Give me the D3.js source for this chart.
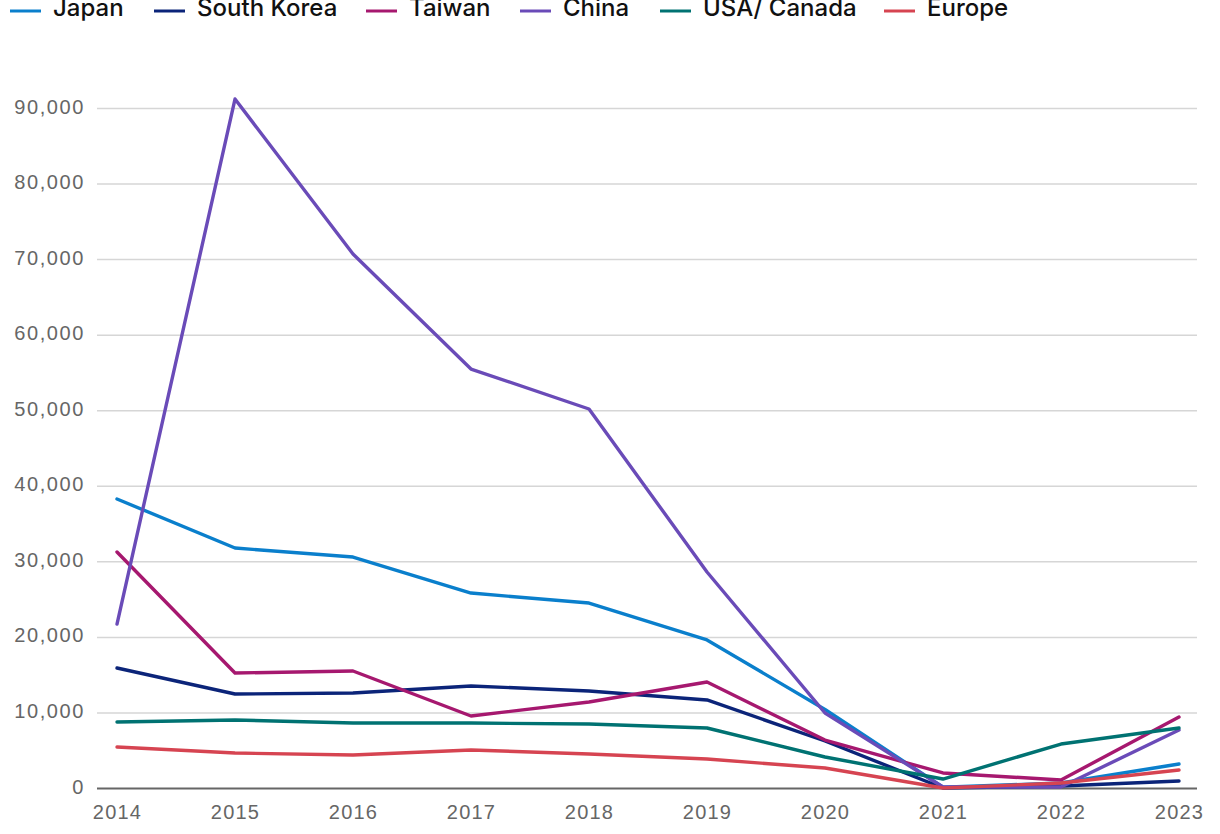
<!DOCTYPE html>
<html>
<head>
<meta charset="utf-8">
<script src="https://cdn.jsdelivr.net/npm/d3@7"></script>
<style>
  html, body { margin: 0; padding: 0; background: #fff; }
  svg { display: block; font-family: Inter, "Noto Sans", Arial, sans-serif; }
</style>
</head>
<body>
<svg id="chart" width="1220" height="834"></svg>
<script>
const years = [2014, 2015, 2016, 2017, 2018, 2019, 2020, 2021, 2022, 2023];
const seriesNames = ["Japan", "South Korea", "Taiwan", "China", "USA/ Canada", "Europe"];
const seriesColors = ["#0a7fcc", "#0b2479", "#a6186f", "#6a4bb8", "#007272", "#d64451"];
const japan      = [38250, 31760, 30570, 25800, 24480, 19590, 10400, 100, 660, 3180];
const southKorea = [15880, 12440, 12570, 13500, 12840, 11650, 6220, 0, 260, 930];
const taiwan     = [31230, 15220, 15490, 9530, 11380, 14030, 6350, 1990, 1060, 9400];
const china      = [21700, 91190, 70680, 55450, 50160, 28590, 9930, 130, 130, 7680];
const usaCanada  = [8740, 9000, 8600, 8600, 8470, 7940, 4100, 1190, 5820, 7940];
const europe     = [5430, 4630, 4370, 5030, 4500, 3840, 2650, 0, 660, 2380];
const yTicks = [0, 10000, 20000, 30000, 40000, 50000, 60000, 70000, 80000, 90000];

const seriesValues = [japan, southKorea, taiwan, china, usaCanada, europe];

const svg = d3.select("#chart");
const x = d3.scalePoint().domain(years).range([117, 1179]);
const y = d3.scaleLinear().domain([0, 90000]).range([788, 108]);

// y axis + gridlines
const yAxis = d3.axisLeft(y).tickValues(yTicks).tickFormat(d3.format(",")).tickSize(0).tickPadding(12);
const gy = svg.append("g").attr("transform", "translate(97,0)").call(yAxis);
gy.select(".domain").remove();
gy.selectAll("text").attr("font-size", 20).attr("fill", "#666").attr("letter-spacing", "1.6px").attr("dy", "0.25em");
gy.selectAll(".tick").append("line")
  .attr("x1", 0).attr("x2", 1100)
  .attr("stroke", d => d === 0 ? "#666" : "#d6d6d6")
  .attr("stroke-width", d => d === 0 ? 2 : 1.5);

// x axis labels
const xAxis = d3.axisBottom(x).tickSize(0).tickPadding(17);
const gx = svg.append("g").attr("transform", "translate(0,788)").call(xAxis);
gx.select(".domain").remove();
gx.selectAll("text").attr("font-size", 20).attr("fill", "#666").attr("letter-spacing", "1.2px");

// lines
const line = d3.line().x((d, i) => x(years[i])).y(d => y(d));
seriesValues.forEach((vals, k) => {
  svg.append("path")
    .datum(vals)
    .attr("d", line)
    .attr("fill", "none")
    .attr("stroke", seriesColors[k])
    .attr("stroke-width", 3.4)
    .attr("stroke-linejoin", "round")
    .attr("stroke-linecap", "round");
});

// legend (cut off at the top edge, as in the reference)
const legendX = [10, 154, 366, 520, 660, 884];
const lg = svg.append("g");
seriesNames.forEach((name, k) => {
  const g = lg.append("g").attr("transform", `translate(${legendX[k]},0)`);
  g.append("line").attr("x1", 0).attr("x2", 31).attr("y1", 11).attr("y2", 11)
    .attr("stroke", seriesColors[k]).attr("stroke-width", 3);
  g.append("text").attr("x", 43).attr("y", 16)
    .attr("font-size", 24).attr("font-weight", 500).attr("fill", "#111").text(name);
});
</script>
</body>
</html>
